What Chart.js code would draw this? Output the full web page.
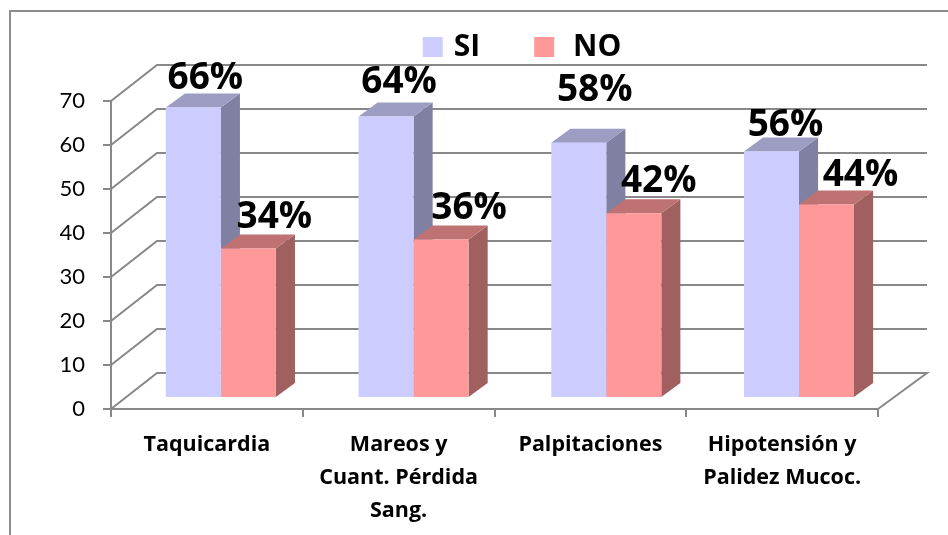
<!DOCTYPE html>
<html>
<head>
<meta charset="utf-8">
<title>Síntomas</title>
<script src="https://cdn.jsdelivr.net/npm/chart.js@4"></script>
<style>
  html, body { margin: 0; padding: 0; background: #fff; }
  #wrap { position: relative; width: 948px; height: 535px; }
</style>
</head>
<body>
<div id="wrap"><canvas id="chart"></canvas></div>
<script>
const categories = ['Taquicardia', ['Mareos y', 'Cuant. Pérdida', 'Sang.'], 'Palpitaciones', ['Hipotensión y', 'Palidez Mucoc.']];
const siValues = [66, 64, 58, 56];
const noValues = [34, 36, 42, 44];
const yTicks = [0, 10, 20, 30, 40, 50, 60, 70];

// hand placed labels in the original, offset from the top of each bar
const siLabelOffsets = [[12, -32], [13, -36], [16, -55], [14, -29]];
const noLabelOffsets = [[26, -33], [28, -34], [25, -34], [34, -31]];

const GRID = '#888888';
const FONT = 'Lato, sans-serif';
const BOLD = '"Open Sans", sans-serif';
const wall = { dxLeft: 46, dxRight: 49, dy: -36 };   // back wall of the 3d box
const depth = { dx: 19, dy: -14 };                   // bar depth
const barShift = { x: 124.5, y: -11, sx: 1.005 };    // bars stand in the middle of the floor

const faces = [
  { top: '#9d9dc4', side: '#8080a2' },
  { top: '#bf7272', side: '#a06060' }
];

const box3d = {
  id: 'box3d',
  afterLayout(chart) {
    // legend sits right of centre in the original
    chart.legend.left += 85;
    chart.legend.right += 85;
    chart.legend.top -= 29;
    chart.legend.bottom -= 29;
  },
  beforeDraw(chart) {
    const { ctx, chartArea: a, scales } = chart;
    ctx.save();
    // outer frame
    ctx.strokeStyle = '#8c8c8c';
    ctx.lineWidth = 2;
    ctx.beginPath();
    ctx.moveTo(10, 535);
    ctx.lineTo(10, 11);
    ctx.lineTo(948, 11);
    ctx.stroke();
    // back wall and floor
    ctx.strokeStyle = GRID;
    yTicks.forEach(v => {
      const y = scales.y.getPixelForValue(v);
      ctx.beginPath();
      ctx.moveTo(a.left, y);
      ctx.lineTo(a.left + wall.dxLeft, y + wall.dy);
      ctx.lineTo(a.right + wall.dxRight, y + wall.dy);
      if (v === 0) ctx.lineTo(a.right, y);
      ctx.stroke();
    });
    ctx.restore();
  },
  beforeDatasetsDraw(chart) {
    const { ctx, chartArea: a } = chart;
    ctx.save();
    ctx.translate(barShift.x - barShift.sx * a.left, barShift.y);
    ctx.scale(barShift.sx, 1);
    // side and top faces first, SI then NO, the fronts go over them
    chart.data.datasets.forEach((ds, i) => {
      const f = faces[i];
      chart.getDatasetMeta(i).data.forEach(bar => {
        const l = bar.x - bar.width / 2, r = bar.x + bar.width / 2;
        ctx.fillStyle = f.side;
        ctx.beginPath();
        ctx.moveTo(r, bar.y);
        ctx.lineTo(r + depth.dx, bar.y + depth.dy);
        ctx.lineTo(r + depth.dx, bar.base + depth.dy);
        ctx.lineTo(r, bar.base);
        ctx.fill();
        ctx.fillStyle = f.top;
        ctx.beginPath();
        ctx.moveTo(l, bar.y);
        ctx.lineTo(l + depth.dx, bar.y + depth.dy);
        ctx.lineTo(r + depth.dx, bar.y + depth.dy);
        ctx.lineTo(r, bar.y);
        ctx.fill();
      });
    });
  },
  afterDatasetsDraw(chart) {
    chart.ctx.restore();
  },
  afterDraw(chart) {
    const { ctx, chartArea: a } = chart;
    const offsets = [siLabelOffsets, noLabelOffsets];
    ctx.save();
    ctx.font = 'bold 37px ' + BOLD;
    ctx.fillStyle = '#000';
    ctx.textAlign = 'center';
    ctx.textBaseline = 'alphabetic';
    chart.data.datasets.forEach((ds, i) => {
      chart.getDatasetMeta(i).data.forEach((bar, j) => {
        const x = barShift.x + barShift.sx * (bar.x - a.left) + offsets[i][j][0];
        const y = bar.y + barShift.y + offsets[i][j][1] + 13;
        ctx.fillText(ds.data[j] + '%', x, y);
      });
    });
    ctx.restore();
  }
};

new Chart(document.getElementById('chart'), {
  type: 'bar',
  data: {
    labels: categories,
    datasets: [
      { label: 'SI', data: siValues, backgroundColor: '#ccccff', clip: false },
      { label: 'NO', data: noValues, backgroundColor: '#ff9999', clip: false }
    ]
  },
  plugins: [box3d],
  options: {
    responsive: true,
    maintainAspectRatio: false,
    animation: false,
    layout: { padding: { top: 3, right: 70, left: 0, bottom: 0 } },
    datasets: { bar: { categoryPercentage: 0.571, barPercentage: 1, borderWidth: 0 } },
    plugins: {
      tooltip: { enabled: false },
      legend: {
        position: 'top',
        labels: {
          boxWidth: 12,
          boxHeight: 12,
          padding: 58,
          color: '#000',
          font: { family: BOLD, size: 30, weight: 'bold' },
          generateLabels(chart) {
            // wide stroke makes the 20px square, text sits closer to it than a plain box allows
            const items = Chart.defaults.plugins.legend.labels.generateLabels(chart);
            items.forEach(it => { it.lineWidth = 8; it.strokeStyle = it.fillStyle; });
            items[1].text = ' ' + items[1].text;
            return items;
          }
        }
      }
    },
    scales: {
      x: {
        afterFit(s) { s.height = 126; },
        border: { color: GRID, width: 2 },
        grid: { drawOnChartArea: false, color: GRID, lineWidth: 2, tickLength: 8 },
        ticks: {
          color: '#000',
          padding: 11,
          maxRotation: 0,
          autoSkip: false,
          font: { family: BOLD, size: 21.5, weight: 'bold', lineHeight: 1.54 }
        }
      },
      y: {
        min: 0,
        max: 70,
        afterFit(s) { s.width = 111; },
        afterBuildTicks(s) { s.ticks = yTicks.map(v => ({ value: v })); },
        border: { color: GRID, width: 2 },
        grid: { drawOnChartArea: false, color: GRID, lineWidth: 2, tickLength: 8 },
        ticks: {
          color: '#000',
          padding: 18,
          font: { family: FONT, size: 22 }
        }
      }
    }
  }
});
</script>
</body>
</html>
